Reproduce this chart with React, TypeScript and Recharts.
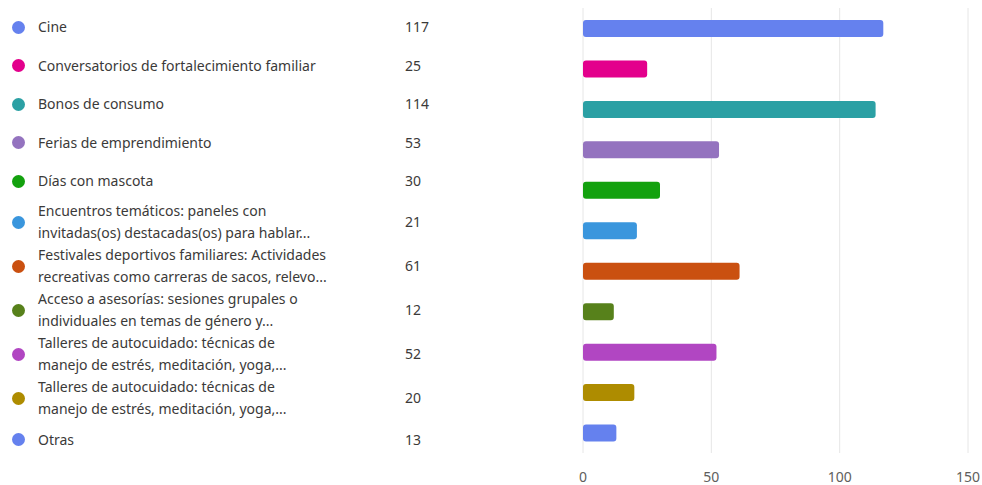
import { BarChart, Bar, XAxis, YAxis, CartesianGrid, Cell } from "recharts"

const categories = [
  "Cine",
  "Conversatorios de fortalecimiento familiar",
  "Bonos de consumo",
  "Ferias de emprendimiento",
  "Días con mascota",
  "Encuentros temáticos: paneles con invitadas(os) destacadas(os) para hablar...",
  "Festivales deportivos familiares: Actividades recreativas como carreras de sacos, relevo...",
  "Acceso a asesorías: sesiones grupales o individuales en temas de género y...",
  "Talleres de autocuidado: técnicas de manejo de estrés, meditación, yoga,...",
  "Talleres de autocuidado: técnicas de manejo de estrés, meditación, yoga,... ",
  "Otras",
]

// how each label wraps in the list on the left
const labelLines = [
  ["Cine"],
  ["Conversatorios de fortalecimiento familiar"],
  ["Bonos de consumo"],
  ["Ferias de emprendimiento"],
  ["Días con mascota"],
  ["Encuentros temáticos: paneles con", "invitadas(os) destacadas(os) para hablar..."],
  ["Festivales deportivos familiares: Actividades", "recreativas como carreras de sacos, relevo..."],
  ["Acceso a asesorías: sesiones grupales o", "individuales en temas de género y..."],
  ["Talleres de autocuidado: técnicas de", "manejo de estrés, meditación, yoga,..."],
  ["Talleres de autocuidado: técnicas de", "manejo de estrés, meditación, yoga,..."],
  ["Otras"],
]

const counts = [117, 25, 114, 53, 30, 21, 61, 12, 52, 20, 13]

const colors = [
  "#6581ee",
  "#e3008c",
  "#2ba0a4",
  "#9473bf",
  "#13a10e",
  "#3a96dd",
  "#ca5010",
  "#57811b",
  "#b146c2",
  "#ae8c00",
  "#6581ee",
]

const xTicks = [0, 50, 100, 150]

const data = categories.map((name, i) => ({ name, value: counts[i] }))

const FONT = "'Noto Sans', 'Open Sans', sans-serif"

function OptionList() {
  return (
    <div style={{ position: "absolute", left: 0, top: 7.75, width: 450, fontFamily: FONT, fontSize: 14, color: "#3b3a39" }}>
      {labelLines.map((lines, i) => (
        <div key={i} style={{ display: "flex", alignItems: "center", minHeight: 38.5, lineHeight: "22px" }}>
          <span
            style={{
              width: 13,
              height: 13,
              borderRadius: "50%",
              background: colors[i],
              marginLeft: 12,
              marginRight: 13,
              flex: "none",
            }}
          />
          <div style={{ width: 367, flex: "none" }}>
            {lines.map((l, j) => (
              <div key={j} style={{ whiteSpace: "nowrap" }}>{l}</div>
            ))}
          </div>
          <span>{counts[i]}</span>
        </div>
      ))}
    </div>
  )
}

export default function App() {
  return (
    <div style={{ position: "absolute", left: 0, top: 0, width: 982, height: 485, background: "#fff" }}>
      <BarChart
        width={982}
        height={485}
        data={data}
        layout="vertical"
        margin={{ top: 8, right: 14, bottom: 0, left: 0 }}
      >
        <CartesianGrid horizontal={false} stroke="#e6e6e6" />
        <XAxis
          type="number"
          domain={[0, 150]}
          ticks={xTicks}
          axisLine={false}
          tickLine={false}
          height={32}
          tickMargin={13}
          tick={{ fill: "#605e5c", fontSize: 14, fontFamily: FONT }}
        />
        <YAxis type="category" dataKey="name" width={583} tick={false} axisLine={false} tickLine={false} />
        <Bar dataKey="value" barSize={17} radius={3} isAnimationActive={false}>
          {data.map((d, i) => (
            <Cell key={d.name + i} fill={colors[i]} />
          ))}
        </Bar>
      </BarChart>
      <OptionList />
    </div>
  )
}
